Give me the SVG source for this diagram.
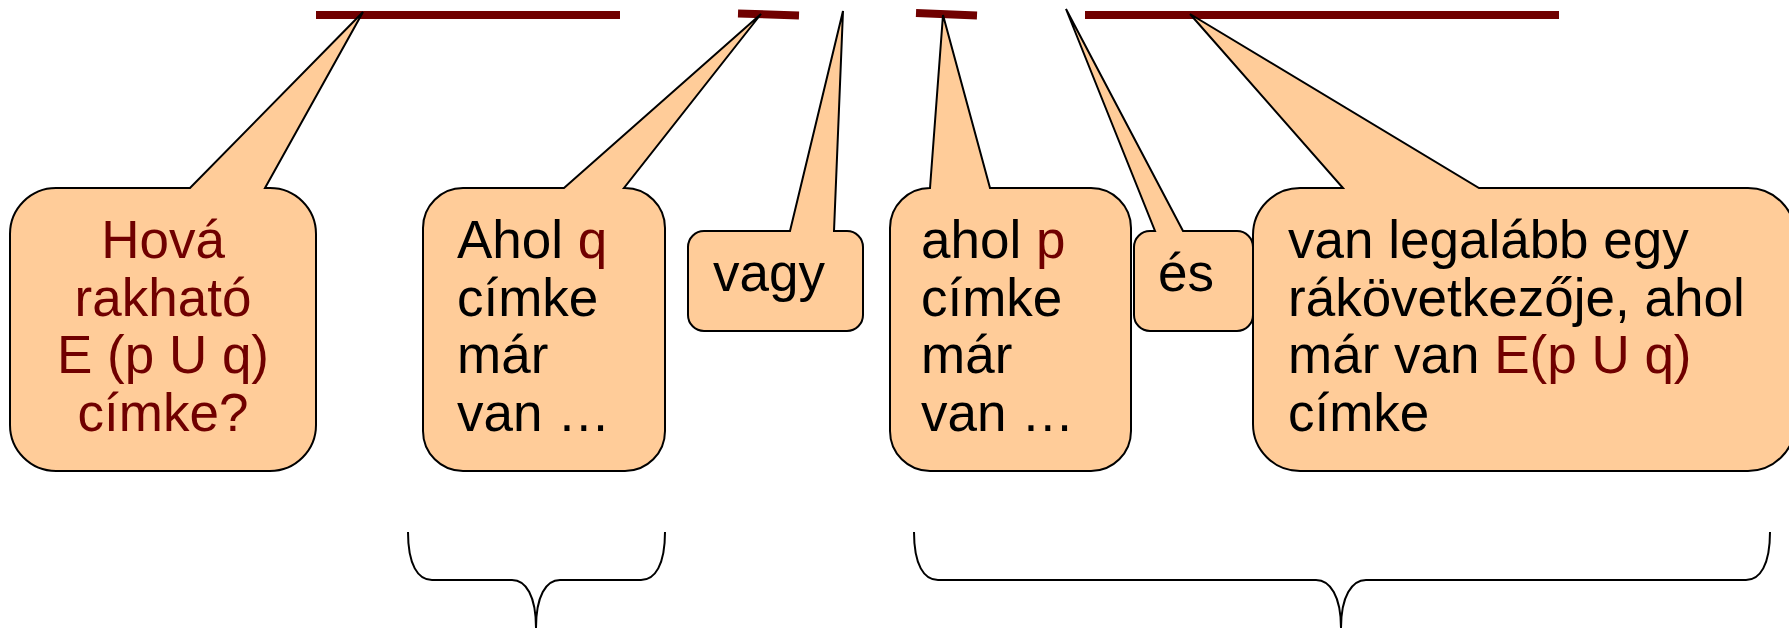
<svg xmlns="http://www.w3.org/2000/svg" width="1789" height="628" viewBox="0 0 1789 628">
<style>
.bar{stroke:#700000;stroke-width:8;fill:none}
.call{fill:#FFCC99;stroke:#000;stroke-width:2;stroke-linejoin:miter}
.t{font-family:"Liberation Sans",Arial,sans-serif;font-size:53px;fill:#000}
.r{fill:#700000}
.brace{fill:none;stroke:#000;stroke-width:2}
</style>
<rect width="1789" height="628" fill="#fff"/>
<g id="bars">
<line class="bar" x1="316" y1="15" x2="620" y2="15"/>
<line class="bar" x1="738" y1="13.5" x2="799" y2="15.5"/>
<line class="bar" x1="916" y1="13" x2="977" y2="15.5"/>
<line class="bar" x1="1085" y1="15" x2="1559" y2="15"/>
</g>
<g id="connectors">
<path class="brace" d="M408,532 C408,565 418,580 432,580 L512,580 C526,580 536,596 536,628 M536,628 C536,596 546,580 560,580 L641,580 C655,580 665,565 665,532"/>
<path class="brace" d="M914,532 C914,565 924,580 938,580 L1316,580 C1330,580 1341,596 1341,628 M1341,628 C1341,596 1352,580 1366,580 L1746,580 C1760,580 1770,565 1770,532"/>
</g>
<g id="node1">
<path class="call" d="M56,188 L190,188 L363,12 L265,188 L270,188 A46,46 0 0 1 316,234 L316,425 A46,46 0 0 1 270,471 L56,471 A46,46 0 0 1 10,425 L10,234 A46,46 0 0 1 56,188 Z"/>
<text class="t r" text-anchor="middle"><tspan x="163" y="258">Hová</tspan><tspan x="163" y="315.5">rakható</tspan><tspan x="163" y="373">E (p U q)</tspan><tspan x="163" y="430.5">címke?</tspan></text>
</g>
<g id="node2">
<path class="call" d="M463,188 L564,188 L761,14 L624,188 L625,188 A40,40 0 0 1 665,228 L665,431 A40,40 0 0 1 625,471 L463,471 A40,40 0 0 1 423,431 L423,228 A40,40 0 0 1 463,188 Z"/>
<text class="t"><tspan x="457" y="258">Ahol <tspan class="r">q</tspan></tspan><tspan x="457" y="315.5">címke</tspan><tspan x="457" y="373">már</tspan><tspan x="457" y="430.5">van …</tspan></text>
</g>
<g id="node3">
<path class="call" d="M704,231 L790,231 L843,11 L834,231 L847,231 A16,16 0 0 1 863,247 L863,315 A16,16 0 0 1 847,331 L704,331 A16,16 0 0 1 688,315 L688,247 A16,16 0 0 1 704,231 Z"/>
<text class="t" x="713" y="291">vagy</text>
</g>
<g id="node4">
<path class="call" d="M930,188 L930,188 L943,15 L990,188 L1091,188 A40,40 0 0 1 1131,228 L1131,431 A40,40 0 0 1 1091,471 L930,471 A40,40 0 0 1 890,431 L890,228 A40,40 0 0 1 930,188 Z"/>
<text class="t"><tspan x="921" y="258">ahol <tspan class="r">p</tspan></tspan><tspan x="921" y="315.5">címke</tspan><tspan x="921" y="373">már</tspan><tspan x="921" y="430.5">van …</tspan></text>
</g>
<g id="node5">
<path class="call" d="M1150,231 L1155,231 L1066,9 L1183,231 L1237,231 A16,16 0 0 1 1253,247 L1253,315 A16,16 0 0 1 1237,331 L1150,331 A16,16 0 0 1 1134,315 L1134,247 A16,16 0 0 1 1150,231 Z"/>
<text class="t" x="1158" y="291">és</text>
</g>
<g id="node6">
<path class="call" d="M1300,188 L1343,188 L1190,14 L1479,188 L1748,188 A47,47 0 0 1 1795,235 L1795,424 A47,47 0 0 1 1748,471 L1300,471 A47,47 0 0 1 1253,424 L1253,235 A47,47 0 0 1 1300,188 Z"/>
<text class="t"><tspan x="1288" y="258">van legalább egy</tspan><tspan x="1288" y="315.5">rákövetkezője, ahol</tspan><tspan x="1288" y="373">már van <tspan class="r">E(p U q)</tspan></tspan><tspan x="1288" y="430.5">címke</tspan></text>
</g>
</svg>
